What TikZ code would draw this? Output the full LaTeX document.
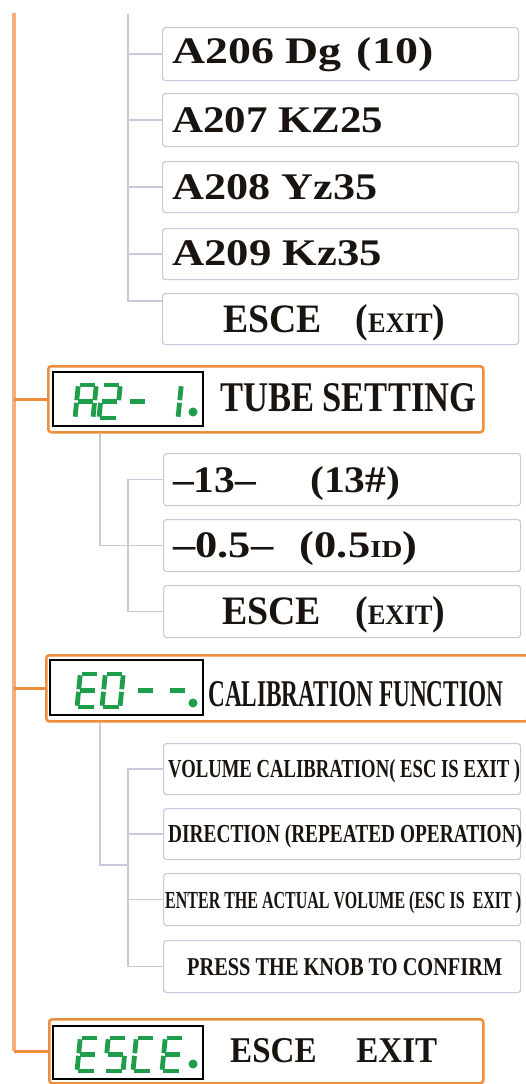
\documentclass[tikz,border=0pt]{standalone}
\usepackage{fontspec}
\setmainfont{Liberation Serif}
\usepackage{graphicx}
\definecolor{peach}{HTML}{F2B080}
\definecolor{orng}{HTML}{EE8E3C}
\definecolor{lav}{HTML}{C9C9DD}
\definecolor{lcdgreen}{HTML}{1E9E4A}
\definecolor{txt}{HTML}{1A1410}
\newcommand\fitto[3]{\resizebox{#1pt}{#2pt}{#3}}
% seven segment geometry (cell 18 x 33, slanted)
\def\sega{(3.3,0)--(21.3,0)}
\def\segb{(21.3,0)--(19.65,16.5)}
\def\segc{(19.65,16.5)--(18,33)}
\def\segd{(0,33)--(18,33)}
\def\sege{(1.65,16.5)--(0,33)}
\def\segf{(3.3,0)--(1.65,16.5)}
\def\segg{(1.65,16.5)--(19.65,16.5)}
\newcommand\lcdchar[3]{\foreach \s in {#3}{\edef\tmpcmd{\noexpand\draw[lcdseg,shift={(#1,#2)}] \csname seg\s\endcsname;}\tmpcmd}}
\newcommand\lcddot[2]{\fill[lcdgreen] (#1,#2) circle (4.5);}
\tikzset{
  lcdseg/.style={draw=lcdgreen, line width=4.8pt, line cap=butt, shorten <=1.3pt, shorten >=1.3pt},
  subbox/.style={draw=lav, line width=1.2pt, rounded corners=3pt, fill=white, inner sep=0pt, anchor=north west},
  obox/.style={draw=orng, line width=2.5pt, rounded corners=3pt, fill=white, inner sep=0pt, anchor=north west},
  lcd/.style={draw=black, line width=2.2pt, fill=white, inner sep=0pt, anchor=north west, minimum width=150pt},
  lbl/.style={anchor=base west, inner sep=0pt, text=txt, font=\bfseries},
  conn/.style={draw=lav, line width=1.3pt},
  mainline/.style={draw=peach, line width=4pt},
  branch/.style={draw=orng, line width=2.5pt},
}
\begin{document}
\begin{tikzpicture}[x=1pt,y=-1pt]
\useasboundingbox[fill=white] (0,0) rectangle (525,1084);
% coordinates
\coordinate (top) at (14,13);
\coordinate (g0) at (128,14);
\coordinate (tvx) at (100,0);
\coordinate (ch) at (128,865);
% ---------- top group boxes
\node[subbox, minimum width=356pt, minimum height=53pt] (a1) at (162,27) {};
\node[subbox, minimum width=356pt, minimum height=53pt] (a2) at (162,93) {};
\node[subbox, minimum width=356pt, minimum height=51pt] (a3) at (162,161) {};
\node[subbox, minimum width=356pt, minimum height=51pt] (a4) at (162,228) {};
\node[subbox, minimum width=356pt, minimum height=51pt] (a5) at (162,293) {};
% ---------- main orange boxes
\node[obox, minimum width=435pt, minimum height=66pt] (tube) at (47,365) {};
\node[obox, minimum width=482pt, minimum height=66pt] (cal) at (45,654) {};
\node[obox, minimum width=434pt, minimum height=64pt] (esc) at (48,1018) {};
% ---------- tube sub boxes
\node[subbox, minimum width=357pt, minimum height=52pt] (u1) at (163,453) {};
\node[subbox, minimum width=357pt, minimum height=52pt] (u2) at (163,519) {};
\node[subbox, minimum width=357pt, minimum height=52pt] (u3) at (163,585) {};
% ---------- calibration sub boxes
\node[subbox, minimum width=357pt, minimum height=51pt] (c1) at (163,743) {};
\node[subbox, minimum width=357pt, minimum height=51pt] (c2) at (163,808) {};
\node[subbox, minimum width=357pt, minimum height=52pt] (c3) at (163,873) {};
\node[subbox, minimum width=357pt, minimum height=52pt] (c4) at (163,940) {};
% ---------- connectors
\draw[mainline] (top) -- (top |- esc.west);
\draw[branch] (top |- tube.west) -- (tube.west);
\draw[branch] (top |- cal.west) -- (cal.west);
\draw[branch] (top |- esc.west) -- (esc.west);
\draw[conn] (g0) |- ([yshift=18pt]a5.west);
\draw[conn] (g0 |- a1.west) -- (a1.west);
\draw[conn] (g0 |- a2.west) -- (a2.west);
\draw[conn] (g0 |- a3.west) -- (a3.west);
\draw[conn] (g0 |- a4.west) -- (a4.west);
\draw[conn] (tube.south -| tvx) |- (u2.west);
\draw[conn] (u1.west) -- ++(-35,0) |- (u3.west);
\draw[conn] (cal.south -| tvx) |- (ch);
\draw[conn] (c1.west) -- ++(-35,0) |- (c4.west);
\draw[conn] (c2.west) -- ++(-35,0);
\draw[conn] (c3.west) -- ++(-35,0);
% ---------- LCD displays
\node[lcd, minimum height=54pt] (tubelcd) at (52,371) {};
\node[lcd, minimum height=55pt, minimum width=153pt] (callcd) at (49,659) {};
\node[lcd, minimum height=53pt] (esclcd) at (52,1025) {};
% A2- 1.
\lcdchar{75}{385}{a,b,c,e,f,g}
\lcdchar{99}{385}{a,b,g,e,d}
\lcdchar{127}{385}{g}
\lcdchar{160}{385}{b,c}
\lcddot{193}{412}
% E0--.
\lcdchar{77}{674}{a,f,g,e,d}
\lcdchar{102}{674}{a,b,c,d,e,f}
\lcdchar{135}{674}{g}
\lcdchar{167}{674}{g}
\lcddot{193}{703}
% ESCE.
\lcdchar{77}{1038}{a,f,g,e,d}
\lcdchar{105}{1038}{a,f,g,c,d}
\lcdchar{133}{1038}{a,f,e,d}
\lcdchar{162}{1038}{a,f,g,e,d}
\lcddot{193}{1064}
% ---------- labels
\node[lbl] (ta1) at (172,63) {\fitto{261}{26}{A206 Dg\,\,(10)}};
\node[lbl] (ta2) at (172,132) {\fitto{211}{25}{A207 KZ25}};
\node[lbl] (ta3) at (172,199) {\fitto{205}{25}{A208 Yz35}};
\node[lbl] (ta4) at (172,265) {\fitto{210}{25}{A209 Kz35}};
\node[lbl] (ta5) at (223,332) {\fitto{222}{28}{ESCE\hspace{0.9em}(\scalebox{0.7}{EXIT})}};
\node[lbl] (ttube) at (220,411) {\fitto{256}{28}{TUBE SETTING}};
\node[lbl] (tu1) at (173,492) {\fitto{227}{26}{–13–\hspace{1.3em}(13\#)}};
\node[lbl] (tu2) at (173,557) {\fitto{244}{26}{–0.5–\hspace{0.6em}(0.5\scalebox{0.65}{ID})}};
\node[lbl] (tu3) at (222,624) {\fitto{223}{28}{ESCE\hspace{0.9em}(\scalebox{0.7}{EXIT})}};
\node[lbl] (tcal) at (208,706) {\fitto{295}{25}{CALIBRATION FUNCTION}};
\node[lbl] (tc1) at (168,777) {\fitto{352}{18}{VOLUME CALIBRATION( ESC IS EXIT )}};
\node[lbl] (tc2) at (168,842) {\fitto{354}{18}{DIRECTION (REPEATED OPERATION)}};
\node[lbl] (tc3) at (165,908) {\fitto{356}{17}{ENTER THE ACTUAL VOLUME (ESC IS\ \ EXIT )}};
\node[lbl] (tc4) at (187,975) {\fitto{315}{17}{PRESS THE KNOB TO CONFIRM}};
\node[lbl] (tesc) at (230,1062) {\fitto{207}{24}{ESCE\hspace{1.2em}EXIT}};
\end{tikzpicture}
\end{document}
